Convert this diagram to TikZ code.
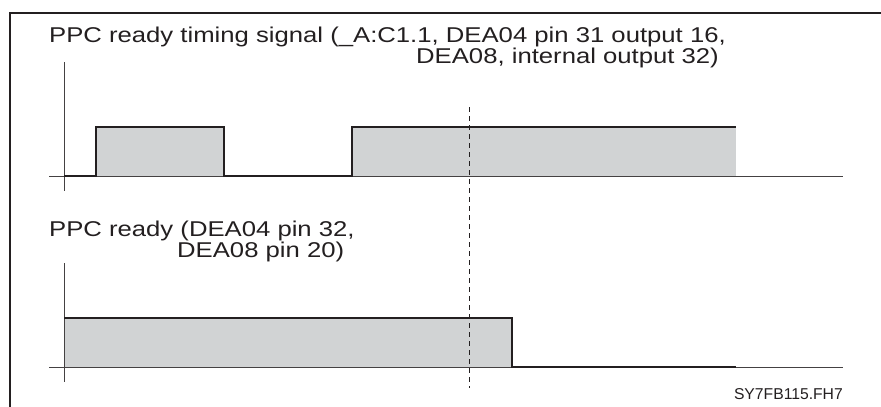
\documentclass[tikz,border=0pt]{standalone}
\usepackage{fontspec}
\setmainfont{Liberation Sans}
\newfontfamily\wide[FakeStretch=1.2]{Liberation Sans}
\definecolor{ink}{HTML}{231F20}
\definecolor{pulse}{HTML}{D1D3D4}
\begin{document}
\begin{tikzpicture}[x=1pt,y=-1pt,
  frame/.style={line width=2.3pt,ink},
  axis/.style={line width=0.9pt,ink!85},
  sig/.style={line width=2pt,ink,line join=miter},
  pulsefill/.style={fill=pulse,draw=none},
  marker/.style={line width=0.8pt,ink,dash pattern=on 5pt off 4pt},
  lbl/.style={inner sep=0pt,anchor=base west,align=left,text=ink,font=\wide\fontsize{21.4}{17.5}\selectfont},
  tag/.style={inner sep=0pt,anchor=base east,text=ink,font=\fontsize{15.7}{16}\selectfont}]
\useasboundingbox (0,0) rectangle (881,407);
% frame (top and left edges)
\draw[frame] (881,12.8) -- (10,12.8) -- (10,407);
% labels (anchor = baseline of the last line)
\node[lbl] (t1) at (49,63.5) {PPC ready timing signal (\_A:C1.1, DEA04 pin 31 output 16,\\\hspace*{367pt}DEA08, internal output 32)};
\node[lbl] (t2) at (49,257.5) {PPC ready (DEA04 pin 32,\\\hspace*{128pt}DEA08 pin 20)};
\node[tag] (code) at (843,399) {SY7FB115.FH7};
% upper timing
\fill[pulsefill] (96,176) rectangle (224,127);
\fill[pulsefill] (352,176) rectangle (736,127);
\draw[axis] (64,62) -- (64,191);
\draw[axis] (49,176) -- (843,176);
\draw[sig] (64,176) -- (96,176) -- (96,127) -- (224,127) -- (224,176) -- (352,176) -- (352,127) -- (736,127);
% lower timing
\fill[pulsefill] (64,318) rectangle (512,367);
\draw[axis] (64,263) -- (64,382);
\draw[axis] (49,367) -- (843,367);
\draw[sig] (64,318) -- (512,318) -- (512,367) -- (736,367);
% dashed marker
\draw[marker] (469,107) -- (469,388);
\end{tikzpicture}
\end{document}
